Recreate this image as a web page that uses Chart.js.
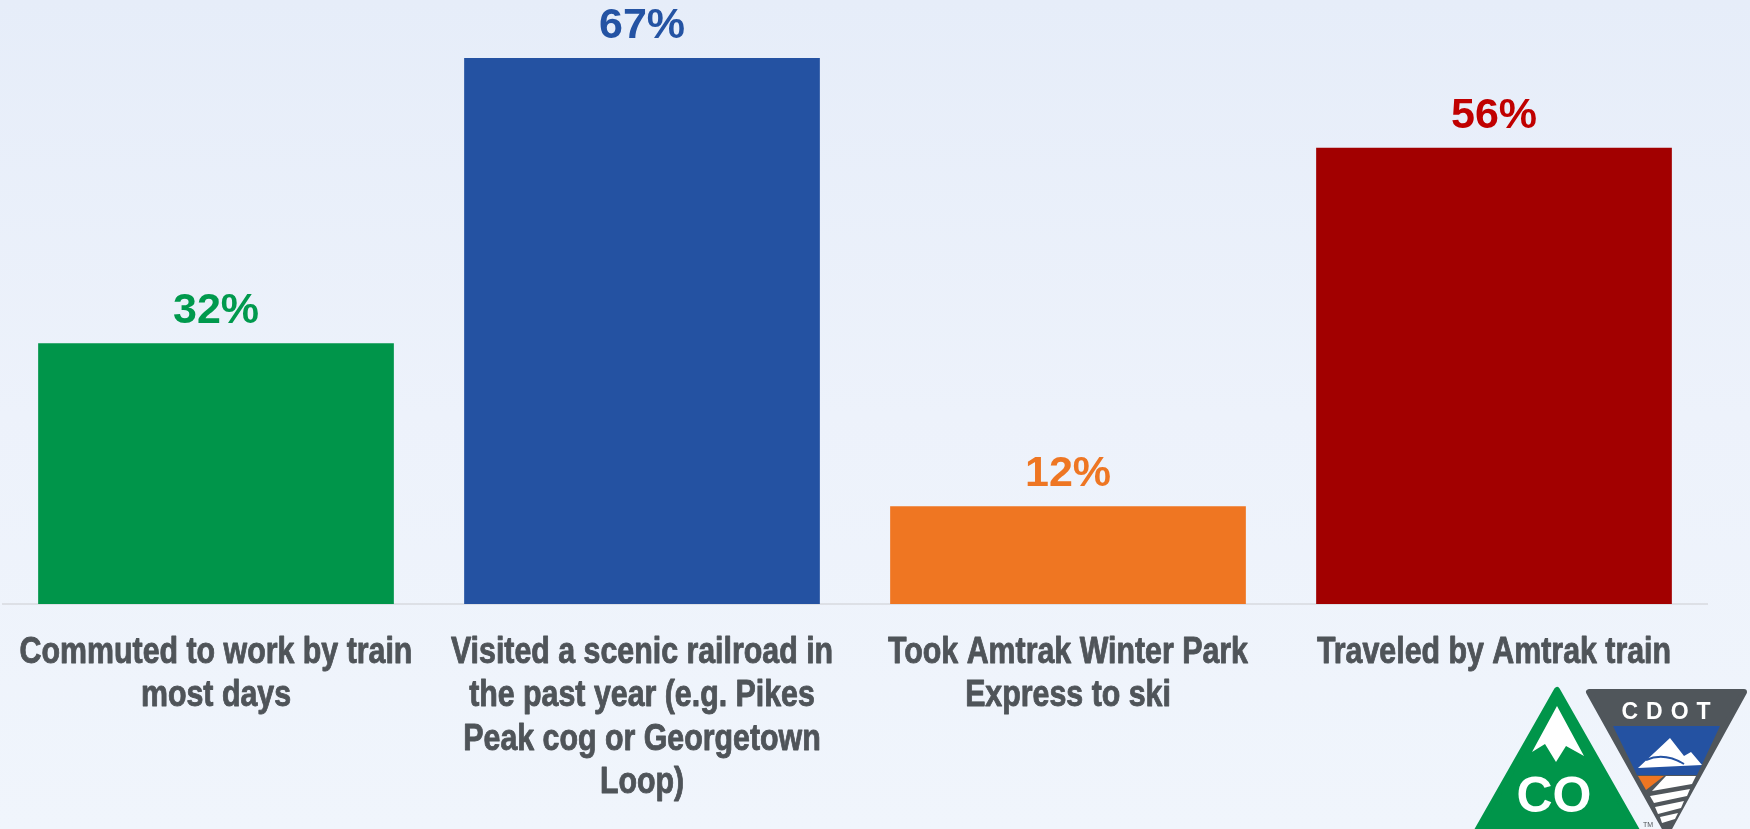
<!DOCTYPE html>
<html>
<head>
<meta charset="utf-8">
<script src="https://cdn.jsdelivr.net/npm/chart.js@4.4.1/dist/chart.umd.min.js"></script>
<style>
  html, body { margin: 0; padding: 0; }
  body {
    width: 1750px; height: 829px; overflow: hidden; position: relative;
    background: linear-gradient(to bottom, #e6edf9 0%, #edf2fb 50%, #f0f5fc 100%);
  }
  #chart { position: absolute; left: 0; top: 0; }
  #logo { position: absolute; left: 0; top: 0; pointer-events: none; }
</style>
</head>
<body>
<canvas id="chart" width="1750" height="829"></canvas>
<svg id="logo" width="1750" height="829" viewBox="0 0 1750 829">
  <!-- CO triangle -->
  <polygon points="1557,690 1474,836 1640,836" fill="#00954a" stroke="#00954a" stroke-width="6" stroke-linejoin="round"/>
  <polygon points="1557,706 1532,752 1545,744 1556,762 1566,746 1584,756" fill="#ffffff"/>
  <text x="1554" y="812" text-anchor="middle" font-family="Liberation Sans, Arial, sans-serif" font-weight="bold" font-size="50" fill="#ffffff">CO</text>
  <text x="1643" y="827" font-family="Liberation Sans, Arial, sans-serif" font-size="7" fill="#4f5459">TM</text>
  <!-- CDOT shield -->
  <polygon points="1589,692 1744,692 1667,832" fill="#50565b" stroke="#50565b" stroke-width="6" stroke-linejoin="round"/>
  <text x="1670" y="719" text-anchor="middle" font-family="Liberation Sans, Arial, sans-serif" font-weight="bold" font-size="23" letter-spacing="8" fill="#ffffff">CDOT</text>
  <polygon points="1613,726 1720,726 1697,775 1637,775" fill="#2452a2"/>
  <polygon points="1670,738 1638,768 1702,765 1691,752 1684,756" fill="#ffffff"/>
  <path d="M1646,760 Q1664,752 1684,764" stroke="#2452a2" stroke-width="2" fill="none"/>
  <polygon points="1638,776 1664,776 1646,790" fill="#ef7622"/>
  <polygon points="1666,776 1696,776 1692,784 1652,791" fill="#ffffff"/>
  <polygon points="1690,789 1687,796 1654,803 1650,796" fill="#ffffff"/>
  <polygon points="1684,801 1681,808 1658,814 1655,807" fill="#ffffff"/>
  <polygon points="1678,813 1675,819 1662,823 1660,817" fill="#ffffff"/>
</svg>
<script>
// categories (x axis, one entry per line of the wrapped label)
const categories = [
  ["Commuted to work by train", "most days"],
  ["Visited a scenic railroad in", "the past year (e.g. Pikes", "Peak cog or Georgetown", "Loop)"],
  ["Took Amtrak Winter Park", "Express to ski"],
  ["Traveled by Amtrak train"]
];
// share of respondents, percent
const values = [32, 67, 12, 56];
const barColors = ["#00954a", "#2452a2", "#ef7622", "#a20000"];
const labelColors = ["#00994d", "#2453a3", "#ee7623", "#c00000"];

const valueLabels = {
  id: "valueLabels",
  afterDatasetsDraw(chart) {
    const ctx = chart.ctx;
    const meta = chart.getDatasetMeta(0);
    ctx.save();
    ctx.font = "bold 43px 'Liberation Sans', Arial, sans-serif";
    ctx.textAlign = "center";
    ctx.textBaseline = "alphabetic";
    meta.data.forEach((bar, i) => {
      ctx.fillStyle = labelColors[i];
      ctx.fillText(values[i] + "%", bar.x, bar.y - 20);
    });
    ctx.restore();
  }
};

// category labels in a narrow bold face (no narrow font installed, so squeeze it)
const narrowLabels = {
  id: "narrowLabels",
  afterDraw(chart) {
    const ctx = chart.ctx;
    const xs = chart.scales.x;
    const firstBaseline = xs.top + 59;
    const lineGap = 43.4;
    ctx.save();
    ctx.font = "bold 37px 'Liberation Sans', Arial, sans-serif";
    ctx.fillStyle = "#4f5459";
    ctx.strokeStyle = "#4f5459";
    ctx.lineWidth = 0.9;
    ctx.lineJoin = "round";
    ctx.textAlign = "center";
    ctx.textBaseline = "alphabetic";
    categories.forEach((lines, i) => {
      const x = xs.getPixelForValue(i);
      lines.forEach((line, j) => {
        ctx.save();
        ctx.translate(x, firstBaseline + j * lineGap);
        ctx.scale(0.82, 1);
        ctx.fillText(line, 0, 0);
        ctx.strokeText(line, 0, 0);
        ctx.restore();
      });
    });
    ctx.restore();
  }
};

new Chart(document.getElementById("chart"), {
  type: "bar",
  data: {
    labels: categories,
    datasets: [{
      data: values,
      backgroundColor: barColors,
      borderWidth: 0,
      categoryPercentage: 1,
      barPercentage: 0.835
    }]
  },
  options: {
    responsive: false,
    animation: false,
    layout: { padding: { left: 3, right: 43, top: 1, bottom: 0 } },
    plugins: { legend: { display: false }, tooltip: { enabled: false } },
    scales: {
      x: {
        grid: { color: "transparent", drawTicks: false },
        border: { display: true, color: "#dde0e6", width: 2 },
        afterFit: (axis) => { axis.height = 225; },
        ticks: { display: false }
      },
      y: { display: false, min: 0, max: 74 }
    }
  },
  plugins: [valueLabels, narrowLabels]
});
</script>
</body>
</html>
